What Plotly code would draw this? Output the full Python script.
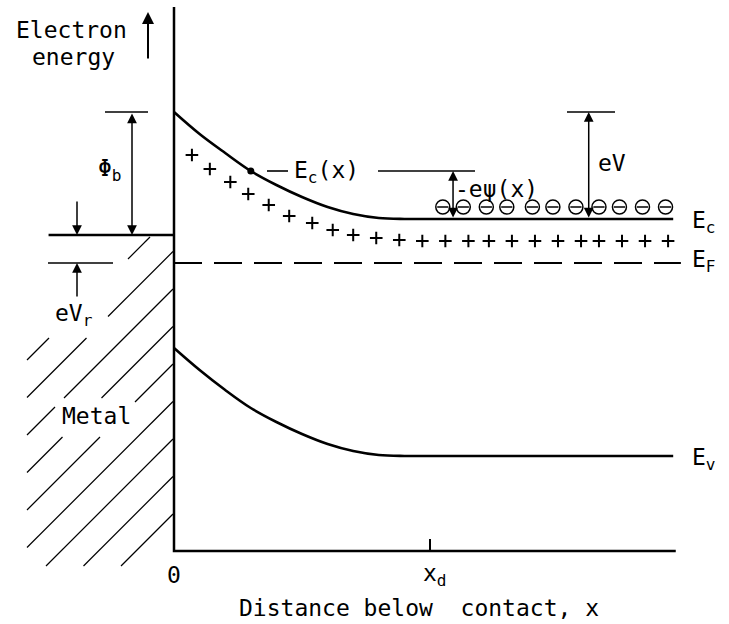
import plotly.graph_objects as go

# ---------------- data (x in units of x_d, energy in arbitrary units, E_F = 0) ----------------
x_band = [0.0, 0.1, 0.2, 0.3, 0.4, 0.5, 0.6, 0.7, 0.8, 0.9, 1.0, 1.95]
Ec = [1.51, 1.29, 1.10, 0.92, 0.78, 0.66, 0.56, 0.49, 0.45, 0.44, 0.44, 0.44]
Ev = [-0.85, -1.07, -1.27, -1.45, -1.59, -1.71, -1.81, -1.88, -1.92, -1.93, -1.93, -1.93]
x_fermi = [0.0, 1.98]
E_F = [0.0, 0.0]
x_metal = [-0.49, 0.0]
E_metal = [0.28, 0.28]
x_donor = [0.07, 0.14, 0.22, 0.29, 0.37, 0.45, 0.54, 0.62, 0.70, 0.79, 0.88, 0.97,
           1.06, 1.15, 1.23, 1.32, 1.41, 1.50, 1.59, 1.66, 1.75, 1.84, 1.93]
E_donor = [1.08, 0.94, 0.81, 0.69, 0.58, 0.47, 0.40, 0.33, 0.28, 0.25, 0.23, 0.22,
           0.22, 0.22, 0.22, 0.22, 0.22, 0.22, 0.22, 0.22, 0.22, 0.22, 0.22]
x_electron = [1.05, 1.13, 1.22, 1.30, 1.40, 1.48, 1.57, 1.66, 1.74, 1.83, 1.92]
E_electron = [0.56] * len(x_electron)
dot_index = 3          # point on Ec(x) that is labelled
x_psi = 1.09           # where -e psi(x) is shown
x_eV = 1.62            # where eV is shown
tick_labels = ["0", "x<sub>d</sub>"]
tick_values = [0.0, 1.0]
x_axis_end = 1.96
E_bottom = -2.88
E_top = 2.56

# ---------------- canvas mapping ----------------
W, H = 729, 624
X0_PX, PX_PER_X, YF_PX, PX_PER_E = 174, 256, 263, 100


def P(px, py):
    return ((px - X0_PX) / PX_PER_X, (YF_PX - py) / PX_PER_E)


def PX(px):
    return (px - X0_PX) / PX_PER_X


def PY(py):
    return (YF_PX - py) / PX_PER_E


FONT = "DejaVu Sans Mono"
FS = 23
BLACK = "black"

fig = go.Figure()


def line(xs, ys, width=2.5, dash=None, shape="linear"):
    fig.add_trace(go.Scatter(x=xs, y=ys, mode="lines", hoverinfo="skip",
                             line=dict(color=BLACK, width=width, dash=dash, shape=shape)))


# axes
line([0, 0, x_axis_end], [E_top, E_bottom, E_bottom], width=2.5)
line([tick_values[1], tick_values[1]], [E_bottom, E_bottom + 0.12], width=2)

# hatching of the metal (decoration)
boxes = [(40, 128, 255, 290), (45, 108, 288, 338), (55, 135, 398, 437)]
hx, hy = [], []
for k in range(9):
    c = 387 + 37.5 * k
    a, b = max(27, c - 566), min(173, c - 237)
    if a >= b:
        continue
    ivs = [(a, b)]
    for (bx0, bx1, by0, by1) in boxes:
        lo, hi = max(bx0, c - by1), min(bx1, c - by0)
        if lo >= hi:
            continue
        new = []
        for (s, e) in ivs:
            if hi <= s or lo >= e:
                new.append((s, e))
            else:
                if lo > s:
                    new.append((s, lo))
                if hi < e:
                    new.append((hi, e))
        ivs = new
    for (s, e) in ivs:
        if e - s < 2:
            continue
        hx += [PX(s), PX(e), None]
        hy += [PY(c - s), PY(c - e), None]
fig.add_trace(go.Scatter(x=hx, y=hy, mode="lines", hoverinfo="skip",
                         line=dict(color=BLACK, width=1.2)))

# bands
line(x_band, Ec, width=2.6, shape="spline")
line(x_band, Ev, width=2.6, shape="spline")
line(x_fermi, E_F, width=2.2, dash="28px,12px")
line(x_metal, E_metal, width=2.5)

# charges
fig.add_trace(go.Scatter(x=x_donor, y=E_donor, mode="markers", hoverinfo="skip",
                         marker=dict(symbol="cross-thin", size=9, line=dict(color=BLACK, width=2))))
fig.add_trace(go.Scatter(x=x_electron, y=E_electron, mode="markers", hoverinfo="skip",
                         marker=dict(symbol="circle-open", size=14, color=BLACK, line=dict(color=BLACK, width=1.5))))
fig.add_trace(go.Scatter(x=x_electron, y=E_electron, mode="markers", hoverinfo="skip",
                         marker=dict(symbol="line-ew", size=8, line=dict(color=BLACK, width=1.5))))

# labelled point on Ec(x)
fig.add_trace(go.Scatter(x=[x_band[dot_index]], y=[Ec[dot_index]], mode="markers", hoverinfo="skip",
                         marker=dict(symbol="circle", size=7, color=BLACK)))

# reference bars
line([PX(105), PX(148)], [Ec[0], Ec[0]], width=1.6)             # phi_b top
line([PX(48), PX(113)], [E_F[0], E_F[0]], width=1.6)            # eV_r lower
line([PX(267), PX(288)], [Ec[dot_index], Ec[dot_index]], width=1.6)   # leader
line([PX(378), PX(475)], [Ec[dot_index], Ec[dot_index]], width=1.6)   # -e psi top
line([PX(567), PX(615)], [Ec[0], Ec[0]], width=1.6)             # eV top


def arrow(x, y, ax, ay, both=False, width=1.5, size=1.3):
    fig.add_annotation(x=x, y=y, ax=ax, ay=ay, xref="x", yref="y", axref="x", ayref="y",
                       text="", showarrow=True, arrowhead=2, arrowsize=size, arrowwidth=width,
                       arrowcolor=BLACK, arrowside="end+start" if both else "end",
                       startarrowhead=2, startarrowsize=size, standoff=0, startstandoff=0)


arrow(PX(148), PY(12), PX(148), PY(60), width=2, size=1.2)               # electron energy
arrow(PX(132), E_metal[0], PX(132), Ec[0], both=True)                   # phi_b
arrow(PX(77), E_metal[0], PX(77), PY(200))                              # eV_r top arrow
arrow(PX(77), E_F[0], PX(77), PY(298))                                  # eV_r bottom arrow
arrow(x_psi, Ec[dot_index], x_psi, Ec[-1], both=True)                   # -e psi
arrow(x_eV, Ec[0], x_eV, Ec[-1], both=True)                             # eV


def text(s, px, py, xanchor="left", size=FS):
    x, y = P(px, py)
    fig.add_annotation(x=x, y=y, xref="x", yref="y", text=s, showarrow=False,
                       xanchor=xanchor, yanchor="middle",
                       font=dict(family=FONT, size=size, color=BLACK))


text("Electron", 71, 30, "center")
text("energy", 73, 57, "center")
text("Φ<sub>b</sub>", 96, 170)
text("eV<sub>r</sub>", 53, 315)
text("Metal", 96, 416, "center")
text("E<sub>c</sub>(x)", 292, 172)
text("-eψ(x)", 453, 189)
text("eV", 596, 163)
text("E<sub>c</sub>", 690, 222)
text("E<sub>F</sub>", 690, 261)
text("E<sub>v</sub>", 690, 459)
for tv, tl in zip(tick_values, tick_labels):
    fig.add_annotation(x=tv, y=PY(575), xref="x", yref="y", text=tl, showarrow=False,
                       xanchor="center" if tv == 0 else "left", yanchor="middle",
                       xshift=0 if tv == 0 else -9,
                       font=dict(family=FONT, size=FS, color=BLACK))
text("Distance below  contact, x", 419, 608, "center")

fig.update_layout(
    width=W, height=H, margin=dict(l=0, r=0, t=0, b=0),
    paper_bgcolor="white", plot_bgcolor="white", showlegend=False,
    xaxis=dict(range=[PX(0), PX(W)], visible=False, fixedrange=True),
    yaxis=dict(range=[PY(H), PY(0)], visible=False, fixedrange=True),
)
fig.write_html("out.html")
